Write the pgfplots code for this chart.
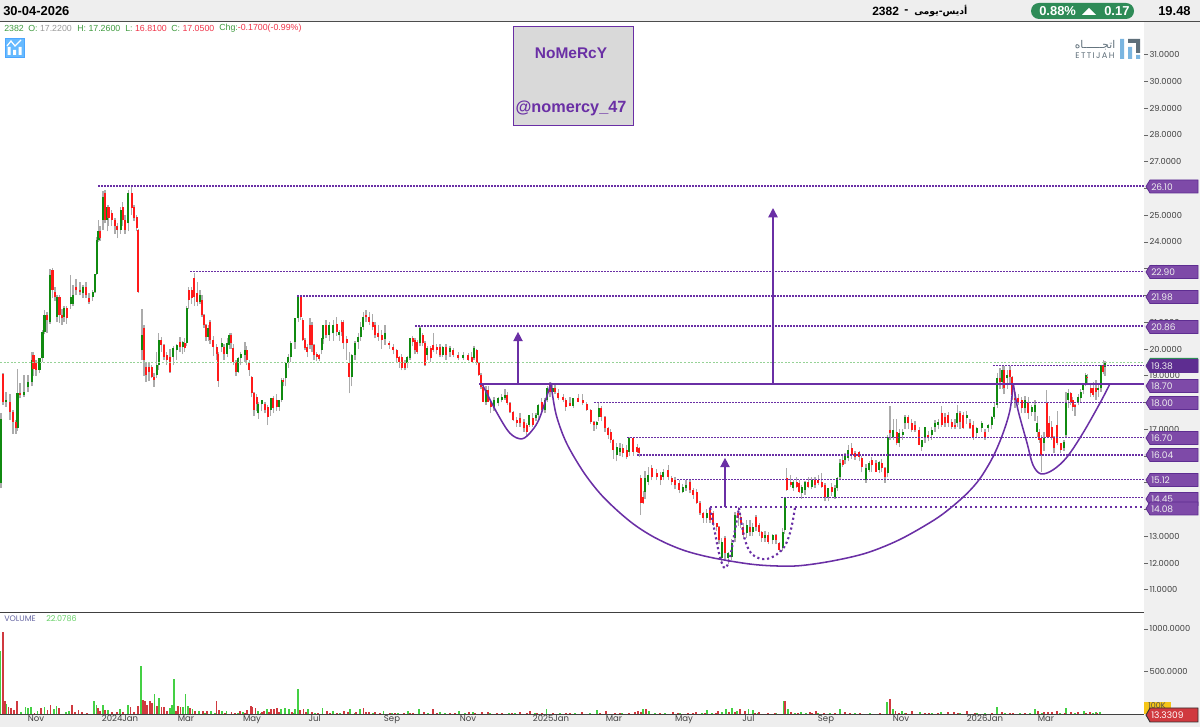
\documentclass[border=0pt]{standalone}
\usepackage{fontspec}
\usepackage{pgfplots}
\usepackage{pgfplotstable}
\pgfplotsset{compat=1.18}
\usetikzlibrary{arrows.meta}
\setmainfont{Liberation Sans}
\newfontfamily\tickfont{Poppins}
\newfontfamily\arabicfont[Script=Arabic]{DejaVu Sans}
\TeXXeTstate=1
\definecolor{hdr}{HTML}{EEEEEE}
\definecolor{gut}{HTML}{F0F0F0}
\definecolor{pur}{HTML}{6A2FA5}
\definecolor{tagf}{HTML}{7E4AA8}
\definecolor{tagd}{HTML}{5E2D91}
\definecolor{upc}{HTML}{108A10}
\definecolor{dnc}{HTML}{FF1A1A}
\definecolor{wick}{HTML}{ABABAB}
\definecolor{volg}{HTML}{44D044}
\definecolor{volr}{HTML}{D0393F}
\definecolor{pill}{HTML}{2E8B57}
\pgfplotstableread{
x o h l c
1 15.0 17.6 14.8 17.4
3 19.05 19.1 17.9 18.03
6 18.03 18.4 17.84 18.09
10 18.03 18.3 17.34 17.65
13 17.65 17.71 16.84 17.28
16 17.28 17.34 16.84 17.03
17.5 17.03 19.27 16.95 18.34
20 18.34 18.71 18.15 18.28
24 18.28 19.02 18.21 18.4
28 18.59 19.02 18.4 18.77
32 18.77 19.9 18.6 19.58
33.5 19.77 19.9 19.0 19.27
36 19.46 19.6 19.0 19.21
39.5 19.21 19.65 19.1 19.65
42.5 19.65 20.7 19.5 20.64
44.5 20.64 21.45 20.55 21.27
47 21.27 21.4 20.6 21.08
50 21.02 23.0 20.95 22.75
52.5 22.95 23.01 21.9 22.2
55 22.14 22.3 21.8 21.95
57 21.2 22.0 21.0 21.95
59.5 21.95 22.0 20.98 21.27
62 21.27 21.5 20.9 21.14
64 21.2 21.6 21.0 21.52
66.7 21.52 21.6 20.95 21.14
70.7 21.7 22.75 21.5 21.95
73 21.7 22.4 21.6 22.01
76 22.33 22.6 22.0 22.2
80 22.2 22.5 22.0 22.14
83 22.08 22.4 21.9 22.33
86 22.33 22.5 21.9 22.01
89 21.89 22.1 21.7 21.76
92.7 21.95 22.2 21.8 22.14
95 22.14 22.8 22.1 22.82
96.7 22.82 24.2 22.75 24.07
98.5 24.07 24.83 24 24.4
100 24.4 24.6 24.05 24.15
103 24.83 25.92 24.45 25.7
105 25.82 25.95 24.7 24.83
107.3 24.83 25.4 24.4 25.32
108.5 25.32 25.4 24.6 24.89
111.7 25.08 25.2 24.6 24.83
115 24.83 24.9 24.3 24.58
117.3 24.58 24.7 24.14 24.45
120.7 24.45 25.3 24.3 25.2
122.7 25.32 25.5 24.6 24.83
125 24.83 25.0 24.3 24.45
128.3 24.7 25.95 24.4 25.82
131.7 25.82 26.1 25.0 25.26
134 25.32 25.4 24.8 24.89
136.7 24.95 25.0 24.4 24.51
138.3 24.45 24.5 22.1 22.13
142 19.96 21.5 19.58 20.52
144 20.77 20.9 19.0 19.58
146 19.33 19.5 18.77 19.02
149 19.33 19.5 18.8 19.15
151.7 19.33 19.4 18.9 18.96
154 18.96 19.1 18.59 18.84
156.7 19.02 19.9 18.9 19.4
158.7 19.4 20.58 19.2 20.33
161.3 20.33 20.46 19.9 20.15
164 20.15 20.2 19.6 19.71
166.7 19.77 19.9 19.4 19.58
170 19.71 20.0 19.1 19.15
173.3 19.71 20.1 19.4 20.02
176.7 19.96 20.2 19.58 20.15
180 20.27 20.46 19.9 20.08
182.7 20.08 20.3 19.8 20.27
184.7 20.21 20.4 19.9 20.02
186.7 20.21 21.6 20.1 21.52
188.7 22.2 22.33 21.5 21.83
191.7 22.2 22.3 21.7 21.89
194.3 22.64 22.85 21.6 21.95
197.3 22.08 22.5 21.6 21.76
200 21.76 22.2 21.7 22.01
202 21.83 22.0 21.2 21.27
204 21.27 21.3 20.8 20.89
206 20.89 20.95 20.3 20.46
208.3 20.46 20.9 20.3 20.77
210 21.02 21.1 20.2 20.33
213.3 20.33 20.5 19.75 20.08
216.7 20.08 20.2 19.6 19.83
218.3 19.83 19.9 18.59 18.8
221.7 20.08 20.4 19.9 20.21
224 20.08 20.2 19.6 19.83
227.3 19.83 20.4 19.7 20.21
229.3 20.15 20.6 20.0 20.52
231 20.52 20.6 20.0 20.21
233.3 20.02 20.2 19.4 19.52
236 19.52 19.6 19.0 19.15
238.3 19.15 19.7 19.1 19.65
240.7 19.65 19.9 19.4 19.83
245 19.77 20.27 19.5 19.96
246.7 19.96 20.1 19.4 19.58
249.3 19.52 19.6 19.0 19.21
251.7 18.96 19.0 18.2 18.34
254 18.34 18.4 17.5 17.71
256.7 18.21 18.3 17.7 17.96
258.3 17.59 18.0 17.4 17.96
261.7 17.96 18.1 17.7 18.09
265 17.96 18.0 17.6 17.71
267.7 17.84 17.9 17.15 17.47
270.7 17.71 18.15 17.5 18.15
273.3 18.15 18.25 17.6 17.78
276.7 18.09 18.3 17.7 17.84
279.3 17.84 18.1 17.7 18.09
281.7 18.09 18.9 18.0 18.84
283.3 18.84 18.9 18.6 18.77
285.7 18.9 19.5 18.6 19.46
288.3 19.46 19.8 19.3 19.71
290.7 19.71 20.3 19.5 20.21
295 20.27 21.14 20.0 21.14
298.3 21.14 21.98 21.0 21.95
300.7 21.95 22.0 21.1 21.2
302.7 21.08 21.15 20.3 20.33
305 20.33 20.4 19.95 20.02
307.3 20.08 20.2 19.7 19.9
310 20.89 21.14 20.0 20.15
312 20.89 21.0 19.9 20.15
314 20.15 20.2 19.6 19.77
316.7 19.83 19.9 19.55 19.71
319.3 19.77 19.8 19.55 19.62
321.7 19.96 20.4 19.8 20.4
323.3 20.39 20.9 20.2 20.89
326 20.89 21.1 20.4 20.52
329.3 20.52 21.0 20.3 20.89
333.3 20.58 21.1 20.3 20.89
336.7 20.95 21.2 20.5 20.64
339.3 20.52 20.7 20.3 20.64
341.7 21.02 21.1 20.5 20.64
343.3 21.02 21.1 20.0 20.21
346.7 20.39 20.5 19.6 20.21
349.3 19.46 19.9 18.34 18.96
351.7 18.96 19.8 18.6 19.77
355 19.77 20.3 19.6 20.21
358.3 20.27 20.6 20.0 20.46
360.7 20.46 21.0 20.3 20.83
363.3 20.83 21.4 20.7 21.2
366 21.27 21.45 21.0 21.2
369.3 21.2 21.4 20.9 21.02
372.7 21.02 21.3 20.7 20.83
375 20.89 21.0 20.4 20.52
378.3 20.58 20.9 20.3 20.46
381.7 20.52 20.7 20.0 20.33
385 20.39 20.9 20.15 20.58
389.3 20.21 20.3 20.0 20.15
393.3 20.08 20.2 19.8 19.96
396.7 19.96 20.0 19.5 19.65
399.3 19.71 19.75 19.3 19.52
401.7 19.71 19.8 19.2 19.28
405 19.46 19.6 19.2 19.28
407.3 19.46 19.75 19.3 19.71
410 19.65 20.4 19.6 20.4
412.7 20.4 20.5 20.1 20.27
415 20.33 20.4 19.8 19.96
417.3 20.27 20.35 19.8 19.9
420 20.21 20.85 20.1 20.77
422.7 20.52 20.6 20.1 20.21
425 20.21 20.3 19.35 19.4
427.3 19.77 20.1 19.6 20.02
430.7 20.02 20.1 19.5 19.65
433.3 20.15 20.6 19.9 19.96
436.7 20.09 20.2 19.8 19.96
440 20.09 20.2 19.7 19.77
442.7 19.77 20.1 19.7 20.09
446 20.09 20.2 19.6 19.77
450 19.9 20.1 19.7 20.02
453.3 19.96 20.05 19.7 19.77
458.3 19.77 19.9 19.6 19.65
463.3 19.65 19.9 19.6 19.77
468.3 19.77 19.85 19.55 19.59
471.7 19.71 19.9 19.5 19.52
474 19.65 20.1 19.6 20.02
476.7 19.96 20.0 19.4 19.46
478.7 19.46 19.5 19.0 19.03
481 19.03 19.1 18.5 18.59
483.3 18.59 18.65 18.0 18.03
486 18.03 18.6 17.9 18.47
488.3 18.47 18.6 18.0 18.03
490.7 18.03 18.1 17.6 17.84
494 17.78 18.2 17.7 18.09
498.3 17.97 18.2 17.85 18.15
501.7 18.09 18.3 18.0 18.22
505 18.15 18.5 18.1 18.28
507.3 18.28 18.4 17.9 17.97
510 17.97 18.0 17.6 17.66
513.3 17.66 17.7 17.3 17.34
516.7 17.34 17.45 17.1 17.22
520 17.41 17.6 17.1 17.22
524 17.28 17.4 16.9 17.03
526.7 17.16 17.25 16.75 16.91
529.3 17.16 17.5 17.1 17.53
532.7 17.41 17.6 17.1 17.16
536 17.41 17.6 17.3 17.53
538.3 17.53 17.95 17.4 17.91
541.7 18.03 18.15 17.6 17.72
545 17.72 18.15 17.6 18.09
547.3 18.09 18.6 18.0 18.53
550 18.65 18.75 18.2 18.4
552.7 18.4 18.7 18.3 18.56
555 18.56 18.7 18.3 18.4
558.3 18.34 18.5 18.1 18.15
563.3 18.22 18.3 18.0 18.09
565.7 18.09 18.15 17.7 17.84
570 17.97 18.2 17.85 17.87
573.3 17.87 18.15 17.8 18.15
578.3 18.15 18.3 18.0 18.03
582.7 18.09 18.3 17.9 17.97
586.7 17.94 18.0 17.7 17.72
590.7 17.72 17.75 17.2 17.28
594 17.28 17.3 16.95 17.16
596.7 17.16 17.3 17.0 17.28
598.7 17.47 18.0 17.3 17.78
601.3 17.78 17.85 17.3 17.47
605 17.47 17.5 16.9 17.03
608.3 17.03 17.1 16.65 16.78
610.7 16.91 17.0 16.5 16.6
613.3 16.6 16.65 15.9 16.22
616.7 16.04 16.5 15.8 16.35
620 16.16 16.5 16.0 16.29
622.7 16.29 16.45 15.95 16.1
626.7 16.22 16.4 15.9 15.97
629.3 16.16 16.7 16.0 16.66
633.3 16.66 16.7 16.0 16.16
637.3 16.35 16.45 16.1 16.16
639.3 16.29 16.35 15.95 16.1
640.7 15.16 15.3 13.79 14.23
643.3 14.48 14.7 14.2 14.23
645 14.67 15.45 14.4 15.16
648.3 15.04 15.6 14.9 15.29
651.7 15.54 15.65 15.1 15.23
656.7 15.35 15.5 15.1 15.23
660.7 15.29 15.4 14.9 15.1
663.3 15.23 15.5 15.1 15.41
668.3 15.48 15.66 15.1 15.23
671.7 15.16 15.25 14.9 15.04
675 15.1 15.2 14.75 14.91
679.3 14.98 15.1 14.6 14.73
682.7 14.67 14.95 14.6 14.85
686 14.79 15.1 14.7 14.91
690 15.04 15.1 14.6 14.73
693.3 14.73 14.8 14.4 14.54
696.7 14.67 14.75 14.2 14.23
700 14.23 14.3 13.8 13.86
703.3 13.86 13.9 13.5 13.67
706.7 13.67 14.0 13.5 13.86
710 13.98 14.1 13.5 13.61
713.3 13.86 13.95 13.4 13.48
716.7 13.48 13.5 13.2 13.36
719 13.36 13.4 12.7 12.86
721.7 12.17 12.95 12.05 12.8
725 12.92 13.0 12.1 12.36
728.3 12.17 12.4 11.95 12.36
731.7 12.24 12.9 12.1 12.73
735 12.92 13.9 12.8 13.79
738.3 13.86 14.1 13.4 13.67
740.7 13.73 13.85 13.3 13.48
743.3 13.36 13.5 12.9 13.05
746.7 13.11 13.6 12.95 13.42
750 13.36 13.6 13.0 13.17
752.7 13.17 13.5 13.0 13.36
756 13.73 13.8 13.2 13.36
759.3 13.42 13.5 13.0 13.17
761.7 13.17 13.2 12.8 12.92
765 12.92 13.2 12.8 13.05
768.3 13.05 13.15 12.7 12.8
772.7 12.86 13.1 12.7 13.05
776 13.05 13.1 12.7 12.86
779.3 12.73 12.8 12.4 12.48
782.7 12.55 13.3 12.45 13.17
784.7 13.23 14.45 13.1 14.42
786.7 15.16 15.54 14.7 14.73
790.7 15.04 15.3 14.85 14.91
793.3 14.79 15.1 14.7 15.04
796.7 15.04 15.2 14.8 14.85
799.3 14.98 15.1 14.6 14.67
801.7 14.6 14.9 14.4 14.85
805 14.73 15.05 14.55 15.04
808.3 15.04 15.2 14.8 14.85
811.7 14.85 15.2 14.75 15.1
815 15.1 15.2 14.8 14.91
818.3 15.1 15.3 14.9 14.98
821.7 15.04 15.35 14.8 14.85
825 14.91 15.0 14.3 14.48
828.3 14.48 14.8 14.3 14.79
831.7 14.85 15.0 14.5 14.67
835 14.48 14.9 14.4 14.79
837.3 14.79 15.2 14.7 15.16
840 15.23 15.9 15.1 15.72
842.7 15.85 16.0 15.6 15.66
845 15.85 16.1 15.7 16.04
848.3 15.91 16.4 15.8 16.22
851.7 16.29 16.5 15.9 16.04
855 16.1 16.2 15.85 15.97
859.3 16.16 16.2 15.8 15.97
861.7 15.91 16.0 15.4 15.6
866 15.1 15.7 15.0 15.54
869.3 15.48 15.8 15.4 15.72
871.7 15.85 15.95 15.4 15.66
876 15.72 15.85 15.4 15.41
879.3 15.48 15.8 15.35 15.79
881.7 15.72 15.9 15.4 15.54
885 15.54 15.6 15.0 15.23
887.7 15.35 16.8 15.2 16.72
890 16.97 17.85 16.6 16.85
893.3 16.72 17.4 16.6 16.97
896.7 16.91 17.4 16.4 16.47
899.3 16.47 17.0 16.35 16.85
902.7 16.78 17.0 16.6 16.91
905 17.22 17.55 17.0 17.47
908.3 17.47 17.55 17.0 17.22
911.7 17.22 17.4 16.9 16.97
915 17.16 17.3 16.9 16.97
919.3 16.97 17.1 16.4 16.41
921.7 16.35 16.6 16.2 16.6
925 16.66 17.1 16.5 17.1
928.3 16.78 16.95 16.55 16.66
931.7 16.78 17.1 16.6 16.97
935 17.1 17.35 16.9 17.22
938.3 17.16 17.4 17.0 17.28
941.7 17.59 17.85 17.1 17.16
945 17.47 17.6 17.1 17.22
948.3 17.53 17.65 17.1 17.22
951.7 17.28 17.4 17.0 17.09
955 17.16 17.4 17.0 17.09
957.3 17.22 17.9 17.1 17.59
960 17.59 17.7 17.0 17.28
963.3 17.53 17.65 17.0 17.03
966.7 17.41 17.7 17.2 17.53
970 17.22 17.4 17.0 17.03
973.3 17.16 17.3 16.6 16.72
976.7 16.85 17.1 16.7 17.03
981.7 17.03 17.3 16.9 17.22
985 16.91 17.0 16.6 16.66
988.3 17.03 17.2 16.9 17.16
991.7 17.16 17.5 17.0 17.47
994.3 17.47 18.0 17.4 17.84
997.3 17.91 19.1 17.8 18.9
1000 18.9 19.3 18.5 18.78
1002.3 18.78 19.35 18.5 19.2
1004 19.2 19.38 18.3 18.53
1007.3 18.9 19.2 18.5 19.03
1010 19.2 19.35 18.7 18.96
1012.3 18.96 19.0 18.1 18.28
1015 18.15 18.4 17.8 18.09
1018.3 18.15 18.3 17.9 18.03
1021.7 18.09 18.2 17.6 17.78
1025 17.78 18.25 17.6 18.09
1028.3 17.97 18.2 17.4 17.59
1031.7 17.66 17.9 17.5 17.84
1035 17.66 18.1 17.3 17.91
1037.3 16.91 17.5 16.7 17.22
1039.3 16.91 17.0 16.5 16.6
1041.3 16.66 16.8 15.4 16.04
1044 16.5 16.9 16.2 16.66
1046.7 17.97 18.45 16.7 16.72
1049.3 17.22 17.5 16.7 16.72
1051.7 17.1 17.3 16.6 16.66
1054 16.66 16.75 16.1 16.29
1057.3 17.16 17.7 16.4 16.47
1060.7 16.47 16.5 16.1 16.22
1064 16.29 16.6 16.2 16.54
1066 16.78 18.4 16.7 18.03
1068.3 18.09 18.5 17.8 18.34
1070.7 18.34 18.4 17.9 18.03
1072.7 18.09 18.2 17.7 17.84
1075 17.91 17.95 17.5 17.84
1078.3 18.03 18.3 17.9 18.22
1080.7 18.15 18.5 18.0 18.4
1083.3 18.47 18.7 18.3 18.65
1085.7 18.65 19.1 18.6 19.03
1087.3 18.97 19.05 18.7 18.9
1090.7 18.53 18.7 18.2 18.34
1093.3 18.53 18.75 18.2 18.28
1096 18.53 18.85 18.1 18.4
1098.3 18.47 18.7 18.2 18.56
1101 18.53 19.4 18.4 19.4
1103.3 19.4 19.6 19.05 19.15
1105 19.34 19.55 19.0 19.46
}\candles
\tikzset{lvl/.style={pur,line width=1.05pt,dash pattern=on 1.125pt off 1.125pt},
 lvlb/.style={pur,line width=1.6pt,dash pattern=on 1.6pt off 2.15pt},
 cup/.style={pur,line width=1.15pt,smooth,tension=0.55},
 arr/.style={pur,line width=1.1pt,-{Triangle[width=7pt,length=7pt]}}}
\newcommand\ptag[3][tagf]{%
 \fill[#1,draw=tagd,line width=.6pt] (1146,#2) -- (1150,#2-6.5) -- (1198,#2-6.5) -- (1198,#2+6.5) -- (1150,#2+6.5) -- cycle;
 \node[anchor=west,inner sep=0pt,text=hdr,font=\tickfont\fontsize{6.8}{7}\selectfont] at (1151,#2+.3) {#3};}
\begin{document}
\begin{tikzpicture}
\useasboundingbox (0,0) rectangle (900pt,545.25pt);
\fill[white] (0,0) rectangle (900pt,545.25pt);
\begin{scope}[x=.75pt,y=-.75pt,shift={(0pt,545.25pt)}]
\fill[hdr] (0,0) rectangle (1200,21);
\fill[gut] (1144,22) rectangle (1200,727);
\fill[hdr] (0,714) rectangle (1200,727);
\draw[line width=1pt,black!70] (0,21.7) -- (1200,21.7);
\draw[line width=.8pt,black!75] (0,612.5) -- (1144,612.5);
\draw[line width=.8pt,black!75] (0,714.2) -- (1144,714.2);
\end{scope}
\begin{axis}[at={(0pt,86.25pt)},anchor=south west,scale only axis,width=858pt,height=442.5pt,
 xmin=0,xmax=1144,ymin=10.168,ymax=32.224,
 axis line style={draw=none},xtick=\empty,
 ytick={11,12,...,31},ytick pos=right,yticklabel pos=right,
 tick align=outside,major tick length=3pt,tick style={black!60,line width=.5pt},
 /pgf/number format/assume math mode=true,
 /pgf/number format/fixed,/pgf/number format/fixed zerofill,/pgf/number format/precision=4,
 yticklabel style={font=\tickfont\fontsize{6.2}{7}\selectfont,text=black!75,inner sep=0pt,xshift=1pt},
 clip=true]
\addplot[draw=none,no markers,forget plot,error bars/.cd,y dir=plus,y explicit,error mark=none,
 error bar style={line width=.95pt,draw=wick,solid}] table[x=x,y=l,y error expr=\thisrow{h}-\thisrow{l}] {\candles};
\addplot[draw=none,no markers,forget plot,unbounded coords=discard,error bars/.cd,y dir=plus,y explicit,error mark=none,
 error bar style={line width=1.75pt,draw=upc,solid}] table[x=x,y expr={\thisrow{c}>=\thisrow{o} ? \thisrow{o} : nan},y error expr=abs(\thisrow{c}-\thisrow{o})] {\candles};
\addplot[draw=none,no markers,forget plot,unbounded coords=discard,error bars/.cd,y dir=plus,y explicit,error mark=none,
 error bar style={line width=1.75pt,draw=dnc,solid}] table[x=x,y expr={\thisrow{c}<\thisrow{o} ? \thisrow{c} : nan},y error expr=abs(\thisrow{c}-\thisrow{o})] {\candles};
% current price
\addplot[color={rgb,255:red,150;green,210;blue,150},line width=.8pt,dash pattern=on 1.5pt off 1.2pt] coordinates {(0,19.48)(1144,19.48)};
% levels
\addplot[lvl] coordinates {(98,26.10)(1144,26.10)};
\addplot[lvl] coordinates {(190,22.90)(1144,22.90)};
\addplot[lvl] coordinates {(297,21.98)(1144,21.98)};
\addplot[lvl] coordinates {(415,20.86)(1144,20.86)};
\addplot[lvl] coordinates {(993,19.38)(1144,19.38)};
\addplot[lvl] coordinates {(594,18.00)(1144,18.00)};
\addplot[lvl] coordinates {(627,16.70)(1144,16.70)};
\addplot[lvl] coordinates {(637,16.04)(1144,16.04)};
\addplot[lvl] coordinates {(677,15.12)(1144,15.12)};
\addplot[lvl] coordinates {(781,14.45)(1144,14.45)};
\addplot[lvlb] coordinates {(710,14.08)(1144,14.08)};
\addplot[pur,line width=1.3pt] coordinates {(479,18.70)(1144,18.70)};
% cups
\addplot[cup] coordinates {(482,18.70)(497,17.61)(510,16.85)(522,16.64)(532,16.95)(540,17.46)(551,18.73)};
\addplot[cup] coordinates {(551,18.73)(552,18.4)(556.7,17.47)(566.7,16.47)(583.3,15.41)(600,14.6)(616.7,13.98)(633.3,13.46)(650,13.05)(666.7,12.73)(683.3,12.48)(700,12.3)(720,12.14)(750,11.96)(775,11.89)(800,11.9)(833,12.08)(867,12.38)(900,12.88)(933,13.58)(950,14.04)(967,14.6)(980,15.16)(993,15.97)(1003,16.85)(1010,17.72)(1013.3,18.7)};
\addplot[cup] coordinates {(1013.3,18.70)(1018,17.72)(1027,16.49)(1033,15.66)(1041,15.33)(1053,15.48)(1067,15.96)(1083,16.86)(1100,17.98)(1110,18.70)};
\addplot[lvlb,smooth,tension=.6] coordinates {(710,14.06)(715,13.12)(720,12.22)(725,11.81)(730,12.22)(735,13.23)(739,14.06)};
\addplot[lvlb,smooth,tension=.6] coordinates {(739,14.06)(745,12.86)(753,12.30)(767,12.15)(782,12.49)(790,13.12)(795,14.06)};
% arrows
\addplot[arr] coordinates {(518,18.70)(518,20.64)};
\addplot[arr] coordinates {(773,18.70)(773,25.27)};
\addplot[arr] coordinates {(725,14.09)(725,15.93)};
\end{axis}
\begin{axis}[at={(0pt,9.75pt)},anchor=south west,scale only axis,width=858pt,height=75.75pt,
 xmin=0,xmax=1144,ymin=0,ymax=1188,
 axis line style={draw=none},
 xtick={36,120,186,252,314.6,392,468,551,614,684,748.5,826,901,985,1046},
 xticklabels={Nov,2024Jan,Mar,May,Jul,Sep,Nov,2025Jan,Mar,May,Jul,Sep,Nov,2026Jan,Mar},
 ytick={500,1000},ytick pos=right,yticklabel pos=right,
 tick align=outside,major tick length=3pt,x tick style={draw=none},y tick style={black!60,line width=.5pt},
 /pgf/number format/assume math mode=true,
 /pgf/number format/fixed,/pgf/number format/fixed zerofill,/pgf/number format/precision=4,/pgf/number format/1000 sep={},
 yticklabel style={font=\tickfont\fontsize{6.2}{7}\selectfont,text=black!75,inner sep=0pt,xshift=1pt},
 xticklabel style={font=\tickfont\fontsize{6.4}{7}\selectfont,text=black!75,inner sep=0pt,yshift=2pt},
 clip=true]
\addplot[ycomb,volg,line width=1.25pt] coordinates {(.5,745)(6.5,118)(21,20)(25.6,86)(28,70)(31,78)(37.5,31)(44.4,78)(54,55)(56.6,94)(66,24)(69,31)(93.8,149)(96.5,102)(103,102)(108,47)(120,55)(128,110)(141,568)(154.6,235)(159,188)(170,70)(172,102)(174,412)(183,78)(185.6,235)(188,94)(192.5,63)(199,31)(205,14)(211,31)(215,16)(222,39)(226.6,31)(238,16)(243,24)(258,39)(261,16)(266.7,63)(270,20)(281,63)(285,71)(289,63)(293,12)(294.7,55)(297.7,290)(308,63)(315,16)(322.6,71)(333,31)(340,14)(350,63)(355,12)(360,55)(373,10)(383.5,31)(392,10)(398,16)(408,39)(419,55)(428,10)(440,20)(445,10)(459,31)(465,10)(473,24)(490,8)(509,12)(515,10)(535,8)(546.5,63)(560,10)(575,8)(590,10)(597,47)(622,10)(643,63)(649,31)(655,8)(665,16)(680,10)(702,10)(707,47)(712,12)(722,18)(726,55)(732,71)(737,30)(748.5,63)(753,47)(758,12)(776,12)(783.7,149)(788,55)(795,14)(801,20)(806,10)(818,8)(830,10)(840,63)(855,8)(870,12)(880,14)(887,141)(892.8,63)(902,39)(905,16)(920,24)(932,14)(941,24)(960,8)(977,12)(985,10)(997,78)(1005,14)(1020,12)(1030,10)(1035,55)(1042,16)(1060,14)(1066,70)(1075,16)(1084,39)(1093,14)(1096,24)(1100,24)};
\addplot[ycomb,volr,line width=1.25pt] coordinates {(3,964)(5,157)(8.5,86)(10.7,70)(14,47)(17,149)(34.5,16)(41,70)(47.5,47)(50.5,102)(59.3,70)(72,110)(75,20)(78.5,47)(82,24)(87,16)(98,71)(100,31)(105,47)(112,24)(117,20)(123,24)(130.5,86)(134,24)(138,94)(143,165)(145,149)(147,102)(150,149)(152,125)(157,94)(161.5,78)(164,86)(167,31)(176,31)(178,94)(180.6,78)(190,71)(195,39)(203,31)(207,31)(216.6,149)(219,47)(225,12)(231.5,24)(235,16)(240,31)(245,10)(247,47)(250.7,94)(252.6,86)(255.6,71)(262,18)(264,31)(269,20)(271,63)(274,63)(276.7,71)(279,24)(292,20)(300,47)(303.5,55)(306,24)(312,24)(318,16)(327,39)(330,14)(337,16)(344,31)(348,18)(356,24)(363.5,71)(366,20)(369,24)(375,20)(380,8)(390,12)(395,8)(404,16)(410,10)(413,16)(424,20)(433,55)(437,12)(450,16)(455,10)(469,24)(475,12)(482,24)(488,20)(497,12)(502,10)(512,10)(520,24)(527,14)(530,39)(537,16)(542,12)(553,16)(566,16)(570,10)(582,20)(600,14)(606,31)(615,16)(620,10)(629,12)(635,20)(638,39)(641,25)(646,55)(660,10)(673,20)(678,8)(688,12)(693,10)(696,24)(705,10)(716,14)(718,31)(729,18)(735,20)(740,63)(745,30)(755,16)(759,24)(768,16)(775,14)(785,157)(791,24)(798,10)(810,24)(812,10)(816,39)(824,12)(835,10)(845,24)(850,8)(860,12)(880,8)(889.7,172)(895.5,39)(899,12)(906,12)(912,31)(925,10)(929,12)(938,14)(948,24)(954,24)(958,12)(967,39)(975,14)(992,10)(1002,20)(1010,10)(1013,12)(1025,14)(1038,39)(1044,18)(1048,24)(1052,20)(1057,31)(1065,12)(1071,24)(1078,24)(1086,14)(1090,20)(1097,12)};
\end{axis}
\begin{scope}[x=.75pt,y=-.75pt,shift={(0pt,545.25pt)}]
% price tags
\ptag{186.5}{26.10}
\ptag{272}{22.90}
\ptag{297}{21.98}
\ptag{327}{20.86}
\fill[pill] (1146,365) -- (1150,358) -- (1198,358) -- (1198,372) -- (1150,372) -- cycle;
\ptag[tagd]{366}{19.38}
\ptag{386}{18.70}
\ptag{403}{18.00}
\ptag{438}{16.70}
\ptag{455}{16.04}
\ptag{480}{15.12}
\ptag{499}{14.45}
\ptag{508.5}{14.08}
% volume tags
\definecolor{yel}{HTML}{F5C518}
\fill[yel] (1144,702) rectangle (1171,714);
\node[anchor=west,inner sep=0pt,text=black!70,font=\tickfont\fontsize{6}{7}\selectfont] at (1148,706) {100K};
\fill[volr,draw=black!80,line width=.7pt] (1146,715) -- (1150,708) -- (1198,708) -- (1198,722) -- (1150,722) -- cycle;
\node[anchor=west,inner sep=0pt,text=white,font=\tickfont\fontsize{6.8}{7}\selectfont] at (1151,715) {13.3309};
% header
\node[anchor=west,inner sep=0pt,font=\bfseries\fontsize{9.7}{11}\selectfont] at (3,11) {30-04-2026};
\node[anchor=west,inner sep=0pt,font=\bfseries\fontsize{9.7}{11}\selectfont] at (1158,11.5) {19.48};
\node[anchor=west,inner sep=0pt,font=\bfseries\fontsize{9}{11}\selectfont] at (872,11) {2382};
\node[anchor=west,inner sep=0pt,font=\bfseries\fontsize{9}{11}\selectfont] at (904,12) {-};
\node[anchor=west,inner sep=0pt,font=\arabicfont\bfseries\fontsize{7}{11}\selectfont] at (914,11) {\beginR أديس-يومى\endR};
\fill[pill,rounded corners=6pt] (1031,3) rectangle (1134,19);
\node[anchor=west,inner sep=0pt,text=white,font=\bfseries\fontsize{9.7}{11}\selectfont] at (1039,11) {0.88\%};
\fill[white] (1082,15) -- (1089,8) -- (1096,15) -- cycle;
\node[anchor=west,inner sep=0pt,text=white,font=\bfseries\fontsize{9.7}{11}\selectfont] at (1104,11) {0.17};
% info line
\definecolor{ig}{HTML}{3F9B3F}\definecolor{ir}{HTML}{F0354A}\definecolor{iv}{HTML}{9A9A9A}
\tikzset{inf/.style={anchor=west,inner sep=0pt,font=\fontsize{6.6}{8}\selectfont}}
\node[inf,text=ig] at (4,28) {2382};
\node[inf] at (28,28) {\textcolor{ig}{O:}~\textcolor{iv}{17.2200}};
\node[inf] at (77,28) {\textcolor{ig}{H: 17.2600}};
\node[inf] at (125,28) {\textcolor{ig}{L:}~\textcolor{ir}{16.8100}};
\node[inf] at (171,28) {\textcolor{ig}{C:}~\textcolor{ir}{17.0500}};
\node[inf] at (219,28) {\textcolor{ig}{Chg:}\textcolor{ir}{-0.1700(-0.99\%)}};
% icon
\fill[blue!45!cyan!60!white,draw=blue!50!cyan!70!white,line width=.5pt] (5,38) rectangle (24,57);
\fill[white] (7.5,47) rectangle (10.5,55) (13,50) rectangle (16,55) (18.5,47) rectangle (21.5,55);
\draw[white,line width=.9pt] (7,46) -- (11,41) -- (15,46) -- (21,40);
% name box
\fill[black!15,draw=pur,line width=.6pt] (513,26) rectangle (633,125);
\node[text=pur,inner sep=0pt,font=\bfseries\fontsize{11.6}{13}\selectfont] at (571,53) {NoMeRcY};
\node[text=pur,inner sep=0pt,font=\bfseries\fontsize{12.2}{14}\selectfont] at (571,108) {@nomercy\_47};
% logo
\definecolor{lg}{HTML}{5F6F7A}\definecolor{lb}{HTML}{7AB5E0}
\fill[lb] (1120,39) rectangle (1124,59) (1128,47) rectangle (1132,59) (1136,55) rectangle (1140,59);
\fill[lg] (1128,39) -- (1140,39) -- (1140,53) -- (1136,53) -- (1136,43) -- (1128,43) -- cycle;
\node[text=lg,inner sep=0pt,font=\tickfont\fontsize{6.2}{7}\selectfont] at (1095,55.5) {E\,T\,T\,I\,J\,A\,H};
\node[text=lg,inner sep=0pt,font=\arabicfont\fontsize{8}{8}\selectfont] at (1095,45) {\beginR اتجــــــاه\endR};
% volume caption
\node[anchor=west,inner sep=0pt,text=blue!40!black!60,font=\tickfont\fontsize{6}{7}\selectfont] at (4,619) {VOLUME};
\node[anchor=west,inner sep=0pt,text=green!70!black!60,font=\tickfont\fontsize{6}{7}\selectfont] at (46,619) {22.0786};
\end{scope}
\end{tikzpicture}
\end{document}
